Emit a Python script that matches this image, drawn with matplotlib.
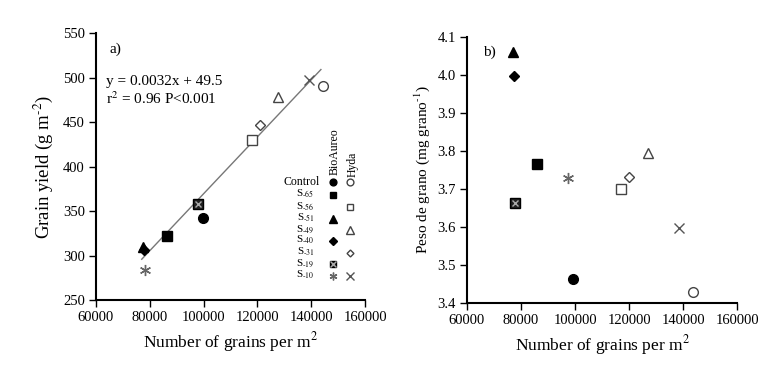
import matplotlib
matplotlib.use('Agg')
import matplotlib.pyplot as plt
import numpy as np

plt.rcParams['font.family'] = ['Liberation Serif', 'DejaVu Serif']
plt.rcParams['mathtext.fontset'] = 'stix'

# data
bio_labels = ['Control', 'S-65', 'S-51', 'S-40', 'S-19', 'S-10']
bio_grains_a = [99900, 86500, 77600, 78000, 98000, 78200]
bio_yield = [342, 322, 310, 306, 358, 284]
bio_grains_b = [99100, 85800, 77150, 77500, 77900, 97500]
bio_weight = [3.462, 3.765, 4.061, 3.997, 3.664, 3.730]

hyda_labels = ['Control', 'S-56', 'S-49', 'S-31', 'S-10']
hyda_grains_a = [144500, 118100, 127500, 121000, 139200]
hyda_yield = [491, 430, 478, 447, 497]
hyda_grains_b = [143600, 117000, 126900, 120100, 138600]
hyda_weight = [3.430, 3.699, 3.795, 3.731, 3.598]

slope, intercept = 0.0032, 49.5
fit_x = np.array([77000, 143600])

legend_rows = ['Control', '-65', '-56', '-51', '-49', '-40', '-31', '-19', '-10']

# marker styles per treatment
ASTER = (6, 2, 0)
bio_style = {
    'Control': dict(marker='o', ms=7, mfc='black', mec='black'),
    'S-65': dict(marker='s', ms=7, mfc='black', mec='black'),
    'S-51': dict(marker='^', ms=7.5, mfc='black', mec='black'),
    'S-40': dict(marker='D', ms=5.5, mfc='black', mec='black'),
    'S-19': dict(marker='s', ms=7, mfc='#222222', mec='black'),
    'S-10': dict(marker=ASTER, ms=8, mfc='#666666', mec='#666666', mew=1),
}
hyda_style = {
    'Control': dict(marker='o', ms=7, mfc='white', mec='#444444', mew=1),
    'S-56': dict(marker='s', ms=7, mfc='white', mec='#444444', mew=1),
    'S-49': dict(marker='^', ms=7.5, mfc='white', mec='#444444', mew=1),
    'S-31': dict(marker='D', ms=5, mfc='white', mec='#444444', mew=1),
    'S-10': dict(marker='x', ms=7.5, mfc='#555555', mec='#555555', mew=1),
}


def draw(ax, x, y, style, lab, bio=True, **kw):
    ax.plot(x, y, ls='none', zorder=3, **style, **kw)
    if bio and lab == 'S-19':
        ax.plot(x, y, ls='none', marker='x', ms=5, mec='#aaaaaa', mew=1, zorder=4, **kw)


def style_axes(ax):
    for s in ['top', 'right']:
        ax.spines[s].set_visible(False)
    for s in ['left', 'bottom']:
        ax.spines[s].set_linewidth(1.5)
    ax.tick_params(direction='out', length=5, width=1, labelsize=10.5, pad=3)
    ax.set_xlim(60000, 160000)
    ax.set_xticks(np.arange(60000, 160001, 20000))


fig = plt.figure(figsize=(7.83, 3.70), dpi=100)
ax1 = fig.add_axes([0.1226, 0.189, 0.3436, 0.7216])
ax2 = fig.add_axes([0.5964, 0.181, 0.3450, 0.7190])

# panel a
style_axes(ax1)
ax1.set_ylim(250, 550)
ax1.set_yticks(np.arange(250, 551, 50))
ax1.plot(fit_x, slope * fit_x + intercept, color='#777777', lw=1, zorder=2)
for lab, x, y in zip(bio_labels, bio_grains_a, bio_yield):
    draw(ax1, x, y, bio_style[lab], lab)
for lab, x, y in zip(hyda_labels, hyda_grains_a, hyda_yield):
    draw(ax1, x, y, hyda_style[lab], lab, bio=False)
ax1.set_xlabel(r'Number of grains per m$^{2}$', fontsize=12.5, labelpad=4)
ax1.set_ylabel(r'Grain yield (g m$^{\text{-2}}$)', fontsize=13.5, labelpad=6)
ax1.text(0.052, 0.94, 'a)', transform=ax1.transAxes, fontsize=11, va='center')
ax1.text(0.037, 0.82, 'y = 0.0032x + 49.5', transform=ax1.transAxes, fontsize=11, va='center')
ax1.text(0.037, 0.753, r'r$^{2}$ = 0.96 P<0.001', transform=ax1.transAxes, fontsize=11, va='center')

# legend table
row_y = [0.442, 0.393, 0.347, 0.303, 0.262, 0.221, 0.178, 0.135, 0.090]
col_bio, col_hyda = 0.880, 0.944
for i, r in enumerate(legend_rows):
    if r == 'Control':
        ax1.text(0.833, row_y[i], r, transform=ax1.transAxes, fontsize=8.5, ha='right', va='center')
    else:
        ax1.text(0.812, row_y[i] + 0.004, r'S$_{\text{' + r + '}}$', transform=ax1.transAxes,
                 fontsize=8, ha='right', va='center')
    key = 'Control' if r == 'Control' else 'S' + r
    if key in bio_style:
        st = dict(bio_style[key])
        st['ms'] = st['ms'] * 0.7
        draw(ax1, [col_bio], [row_y[i]], st, key, transform=ax1.transAxes, clip_on=False)
    if key in hyda_style:
        st = dict(hyda_style[key])
        st['ms'] = st['ms'] * 0.7
        draw(ax1, [col_hyda], [row_y[i]], st, key, bio=False, transform=ax1.transAxes, clip_on=False)
ax1.text(0.888, 0.468, 'BioAureo', transform=ax1.transAxes, rotation=90, fontsize=8.5,
         ha='center', va='bottom')
ax1.text(0.952, 0.462, 'Hyda', transform=ax1.transAxes, rotation=90, fontsize=8.5,
         ha='center', va='bottom')

# panel b
style_axes(ax2)
ax2.set_ylim(3.4, 4.1)
ax2.set_yticks(np.arange(3.4, 4.101, 0.1))
ax2.set_yticklabels(['%.1f' % v for v in np.arange(3.4, 4.101, 0.1)])
for lab, x, y in zip(bio_labels, bio_grains_b, bio_weight):
    draw(ax2, x, y, bio_style[lab], lab)
for lab, x, y in zip(hyda_labels, hyda_grains_b, hyda_weight):
    draw(ax2, x, y, hyda_style[lab], lab, bio=False)
ax2.set_xlabel(r'Number of grains per m$^{2}$', fontsize=12.5, labelpad=4)
ax2.set_ylabel(r'Peso de grano (mg grano$^{\text{-1}}$)', fontsize=11, labelpad=4)
ax2.text(0.059, 0.944, 'b)', transform=ax2.transAxes, fontsize=11, va='center')

fig.savefig('out.png', dpi=100)
